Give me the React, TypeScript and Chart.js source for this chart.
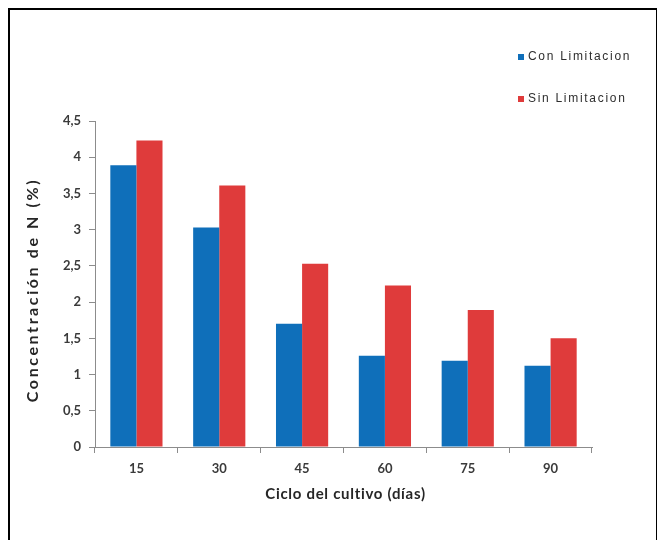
import React, { useEffect, useRef } from "react";
import { Chart, registerables } from "chart.js";

Chart.register(...registerables);

// Días del ciclo del cultivo (eje X)
const dias = ["15", "30", "45", "60", "75", "90"];
// Concentración de N (%) por tratamiento
const conLimitacion = [3.89, 3.03, 1.7, 1.26, 1.19, 1.12];
const sinLimitacion = [4.23, 3.61, 2.53, 2.23, 1.89, 1.5];
// Rango y paso del eje Y
const yMin = 0;
const yMax = 4.5;
const yStep = 0.5;

const seriesNames = ["Con Limitacion", "Sin Limitacion"];
const seriesColors = ["#0f6fba", "#df3b3b"];
const xTitle = "Ciclo del cultivo (días)";
const yTitle = "Concentración de N (%)";

const axisColor = "#8c8c8c";
const textColor = "#3a3a3a";
const fontFamily = "Lato, 'Open Sans', sans-serif";

// Leyenda vertical en la esquina superior derecha
const sideLegend = {
  id: "sideLegend",
  afterDraw(chart: any) {
    const ctx = chart.ctx as CanvasRenderingContext2D;
    ctx.save();
    ctx.font = "12px 'Liberation Sans', Arial, sans-serif";
    (ctx as any).letterSpacing = "1.7px";
    ctx.textBaseline = "middle";
    ctx.textAlign = "left";
    chart.data.datasets.forEach((ds: any, i: number) => {
      const y = 47 + i * 42;
      ctx.fillStyle = ds.backgroundColor;
      ctx.fillRect(508, y - 3, 6, 6);
      ctx.fillStyle = "#2e2e2e";
      ctx.fillText(ds.label, 518, y);
    });
    ctx.restore();
  },
};

// Títulos de los ejes con espaciado entre letras
const axisTitles = {
  id: "axisTitles",
  afterDraw(chart: any) {
    const ctx = chart.ctx as CanvasRenderingContext2D;
    const area = chart.chartArea;
    ctx.save();
    ctx.fillStyle = "#262626";
    ctx.textAlign = "center";
    ctx.textBaseline = "middle";

    ctx.font = `bold 15px ${fontFamily}`;
    (ctx as any).letterSpacing = "0.7px";
    ctx.fillText(xTitle, (area.left + area.right) / 2 + 2, 484);

    ctx.font = `bold 16px ${fontFamily}`;
    (ctx as any).letterSpacing = "2.6px";
    ctx.translate(23, (area.top + area.bottom) / 2 + 6);
    ctx.rotate(-Math.PI / 2);
    ctx.fillText(yTitle, 0, 0);
    ctx.restore();
  },
};

export default function App() {
  const canvasRef = useRef<HTMLCanvasElement | null>(null);

  useEffect(() => {
    document.documentElement.style.overflow = "hidden";
    const canvas = canvasRef.current;
    if (!canvas) return;

    const chart = new Chart(canvas, {
      type: "bar",
      data: {
        labels: dias,
        datasets: [
          {
            label: seriesNames[0],
            data: conLimitacion,
            backgroundColor: seriesColors[0],
            categoryPercentage: 0.63,
            barPercentage: 1,
          },
          {
            label: seriesNames[1],
            data: sinLimitacion,
            backgroundColor: seriesColors[1],
            categoryPercentage: 0.63,
            barPercentage: 1,
          },
        ],
      },
      options: {
        animation: false,
        responsive: false,
        maintainAspectRatio: false,
        layout: { padding: { top: 111, right: 64, left: 0, bottom: 0 } },
        plugins: {
          legend: { display: false },
          tooltip: { enabled: false },
        },
        scales: {
          x: {
            offset: true,
            grid: {
              display: true,
              offset: true,
              drawOnChartArea: false,
              drawTicks: true,
              tickLength: 6,
              color: axisColor,
            },
            border: { display: true, color: axisColor, width: 1 },
            ticks: {
              color: textColor,
              padding: 8,
              font: { family: fontFamily, size: 13, weight: "bold" },
            },
            afterFit: (s: any) => {
              s.height = 93;
            },
          },
          y: {
            min: yMin,
            max: yMax,
            grid: {
              display: true,
              drawOnChartArea: false,
              drawTicks: true,
              tickLength: 6,
              color: axisColor,
            },
            border: { display: true, color: axisColor, width: 1 },
            ticks: {
              stepSize: yStep,
              color: textColor,
              padding: 8,
              font: { family: fontFamily, size: 13, weight: "bold" },
              callback: (v: any) => String(v).replace(".", ","),
            },
            afterFit: (s: any) => {
              s.width = 85;
            },
          },
        },
      },
      plugins: [sideLegend, axisTitles],
    });

    return () => chart.destroy();
  }, []);

  return (
    <div
      style={{
        width: 646,
        height: 540,
        border: "2px solid #000",
        background: "#ffffff",
      }}
    >
      <canvas ref={canvasRef} width={646} height={530} style={{ display: "block" }} />
    </div>
  );
}
